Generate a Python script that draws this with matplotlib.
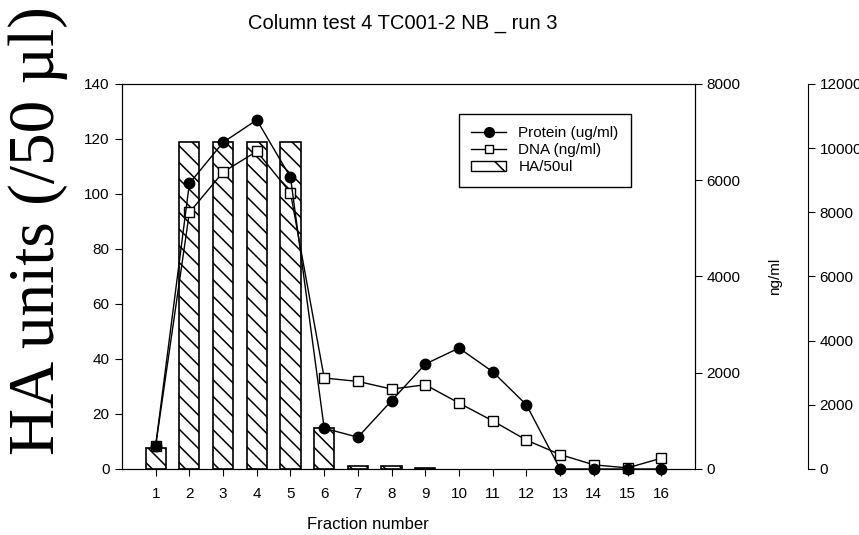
import numpy as np
import matplotlib
matplotlib.use("Agg")
import matplotlib.pyplot as plt
from matplotlib.lines import Line2D
from matplotlib.patches import Patch

plt.rcParams["font.family"] = ["Liberation Sans", "DejaVu Sans"]
plt.rcParams["hatch.linewidth"] = 1.1

# data
fractions = np.arange(1, 17)
ha_units = np.array([7.5, 119, 119, 119, 119, 15, 1, 1, 0.3, 0, 0, 0, 0, 0, 0, 0])
protein = [730, 8900, 10180, 10880, 9090, 1270, 990, 2130,
           3270, 3770, 3030, 2000, 0, 0, 0, 0]          # third axis, 0-12000
dna = [486, 5330, 6170, 6600, 5740, 1890, 1820, 1660,
       1750, 1370, 1000, 600, 300, 86, 23, 223]          # ng/ml axis, 0-8000

fig = plt.figure(figsize=(8.59, 5.35), dpi=100)
ax = fig.add_axes([0.142, 0.1234, 0.667, 0.7196])

# no bar outline where HA is zero
has_ha = ha_units > 0
ax.bar(fractions[has_ha], ha_units[has_ha], width=0.6, color="white",
       edgecolor="black", linewidth=1.2, hatch="\\\\", zorder=2)
ax.set_xlim(0, 17)
ax.set_ylim(0, 140)
ax.set_xticks(fractions)
ax.set_yticks(range(0, 141, 20))
ax.tick_params(direction="out", length=5, labelsize=11, pad=4)
ax.tick_params(axis="x", pad=8)
ax.set_xlabel("Fraction number", fontsize=12)
ax.xaxis.set_label_coords(0.43, -0.125)
ax.set_ylabel("HA units (/50 µl)", family=["Liberation Serif", "DejaVu Serif"],
              fontsize=47)
ax.yaxis.set_label_coords(-0.094, 0.62)

# DNA on the ng/ml axis
ax2 = ax.twinx()
ax2.plot(fractions, dna, color="black", lw=1.0, marker="s", ms=6.5,
         mfc="white", mec="black", mew=1.0, zorder=3, clip_on=False)
ax2.set_ylim(0, 8000)
ax2.set_yticks(range(0, 8001, 2000))
ax2.tick_params(direction="out", length=5, labelsize=11)
ax2.set_ylabel("ng/ml", fontsize=11, labelpad=20)

# protein on the offset third axis (labels run off the right edge, as in the original)
ax3 = ax.twinx()
ax3.spines["right"].set_position(("axes", 1.197))
for s in ["top", "bottom", "left"]:
    ax3.spines[s].set_visible(False)
ax3.plot(fractions, protein, color="black", lw=1.0, marker="o", ms=7.5,
         mfc="black", mec="black", zorder=4, clip_on=False)
ax3.set_ylim(0, 12000)
ax3.set_yticks(range(0, 12001, 2000))
ax3.tick_params(direction="out", length=5, labelsize=11)

handles = [
    Line2D([], [], color="black", lw=1.0, marker="o", ms=7, mfc="black"),
    Line2D([], [], color="black", lw=1.0, marker="s", ms=6, mfc="white"),
    Patch(facecolor="white", edgecolor="black", hatch="\\"),
]
labels = ["Protein (ug/ml)", "DNA (ng/ml)", "HA/50ul"]
leg = ax3.legend(handles, labels, loc="upper left", bbox_to_anchor=(0.588, 0.922),
                 borderaxespad=0, fancybox=False, framealpha=1, edgecolor="black",
                 fontsize=11, handlelength=2.3, labelspacing=0.2,
                 borderpad=0.8)
leg.get_frame().set_linewidth(1.0)

fig.suptitle("Column test 4 TC001-2 NB _ run 3", x=0.469, y=0.975, fontsize=14.5)

fig.savefig("out.png", dpi=100)
